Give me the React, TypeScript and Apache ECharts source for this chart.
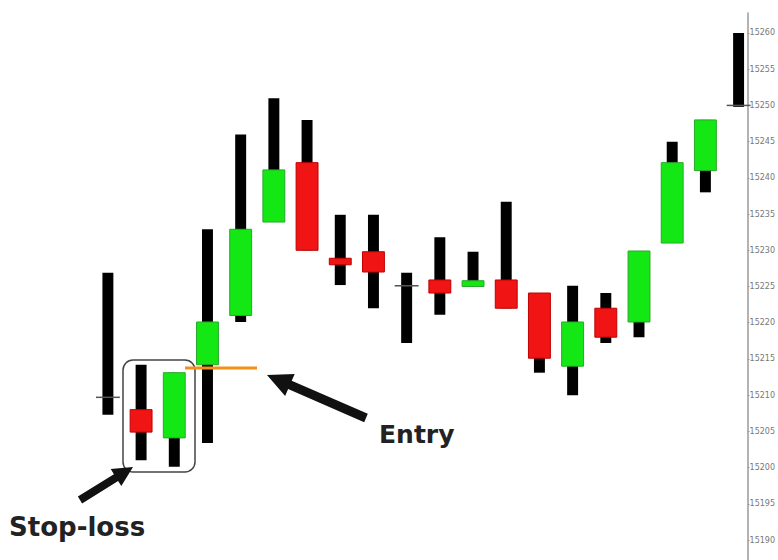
import React, { useEffect, useRef } from "react";
import * as echarts from "echarts";

// Bar numbers (one candle per bar)
const categories = ["1","2","3","4","5","6","7","8","9","10","11","12","13","14","15","16","17","18","19","20"];
const opens  = [15209.7, 15208.0, 15204.1, 15214.2, 15221.0, 15233.9, 15242.1, 15228.9, 15229.8, 15225.1, 15225.9, 15225.0, 15225.9, 15224.1, 15214.0, 15222.0, 15220.1, 15231.0, 15241.0, 15250.0];
const closes = [15209.7, 15204.9, 15213.1, 15220.1, 15232.9, 15241.1, 15230.0, 15228.0, 15227.0, 15225.1, 15224.1, 15225.8, 15222.0, 15215.1, 15220.1, 15218.0, 15229.9, 15242.1, 15248.0, 15250.0];
const lows   = [15207.3, 15201.0, 15200.1, 15203.4, 15220.1, 15233.9, 15230.0, 15225.2, 15222.0, 15217.2, 15221.1, 15225.0, 15222.0, 15213.1, 15210.0, 15217.2, 15218.0, 15231.0, 15238.0, 15249.8];
const highs  = [15226.9, 15214.2, 15213.1, 15232.9, 15246.0, 15251.0, 15248.0, 15234.9, 15234.9, 15226.9, 15231.8, 15229.8, 15236.7, 15224.1, 15225.1, 15224.1, 15229.9, 15245.0, 15248.0, 15260.0];
const tickLabels = [15190, 15195, 15200, 15205, 15210, 15215, 15220, 15225, 15230, 15235, 15240, 15245, 15250, 15255, 15260];
const entryLabel = "Entry";
const stopLabel = "Stop-loss";

function arrow(x1: number, y1: number, x2: number, y2: number, headLen: number, headW: number, shaftW: number) {
  const dx = x2 - x1, dy = y2 - y1;
  const len = Math.hypot(dx, dy);
  const ux = dx / len, uy = dy / len;
  const nx = -uy, ny = ux;
  const bx = x2 - ux * headLen, by = y2 - uy * headLen;
  return [
    [x2, y2],
    [bx + nx * headW, by + ny * headW],
    [bx + nx * shaftW, by + ny * shaftW],
    [x1 + nx * shaftW, y1 + ny * shaftW],
    [x1 - nx * shaftW, y1 - ny * shaftW],
    [bx - nx * shaftW, by - ny * shaftW],
    [bx - nx * headW, by - ny * headW],
  ];
}

export default function App() {
  const ref = useRef<HTMLDivElement>(null);
  useEffect(() => {
    if (!ref.current) return;
    const chart = echarts.init(ref.current, null, { renderer: "svg" });
    const data = categories.map((_, i) => [i, opens[i], closes[i], lows[i], highs[i]]);
    chart.setOption({
      animation: false,
      backgroundColor: "#ffffff",
      grid: { left: 91.3, right: 28, top: 13, bottom: 0 },
      xAxis: { type: "value", min: -0.5, max: 19.27, show: false },
      yAxis: {
        type: "value",
        position: "right",
        min: 15187.24,
        max: 15262.76,
        axisLine: { show: true, onZero: false, lineStyle: { color: "#9a9a9a", width: 1.5 } },
        axisTick: { show: true, length: 2, customValues: tickLabels, lineStyle: { color: "#9a9a9a" } },
        axisLabel: {
          customValues: tickLabels,
          formatter: (v: number) => String(Math.round(v)),
          fontSize: 8,
          color: "#777",
          margin: 2,
          fontFamily: "DejaVu Sans",
        },
        splitLine: { show: false },
      },
      series: [
        {
          type: "custom",
          data,
          encode: { x: 0, y: [1, 2, 3, 4] },
          renderItem: (params: any, api: any) => {
            const x = api.value(0);
            const o = api.value(1), c = api.value(2), l = api.value(3), h = api.value(4);
            const pH = api.coord([x, h]);
            const pL = api.coord([x, l]);
            const pO = api.coord([x, o]);
            const pC = api.coord([x, c]);
            const band = api.size([1, 0])[0];
            const wickW = band * 0.33;
            const bodyW = band * 0.66;
            const cx = pH[0];
            const children: any[] = [
              {
                type: "rect",
                shape: { x: cx - wickW / 2, y: pH[1], width: wickW, height: Math.max(1, pL[1] - pH[1]) },
                style: { fill: "#000000" },
              },
            ];
            if (o === c) {
              children.push({
                type: "line",
                shape: { x1: cx - band * 0.36, y1: pO[1], x2: cx + band * 0.36, y2: pO[1] },
                style: { stroke: "#555", lineWidth: 1.5 },
              });
            } else {
              const up = c > o;
              const top = Math.min(pO[1], pC[1]);
              const hgt = Math.abs(pO[1] - pC[1]);
              children.push({
                type: "rect",
                shape: { x: cx - bodyW / 2, y: top, width: bodyW, height: Math.max(3, hgt) },
                style: {
                  fill: up ? "#14e814" : "#f01414",
                  stroke: up ? "#2aa82a" : "#c00000",
                  lineWidth: 1,
                },
              });
            }
            return { type: "group", children };
          },
        },
      ],
      graphic: [
        {
          type: "rect",
          shape: { x: 123, y: 360, width: 72, height: 112, r: 10 },
          style: { fill: "none", stroke: "#444", lineWidth: 1.5 },
          z: 10,
        },
        {
          type: "line",
          shape: { x1: 185, y1: 368, x2: 257, y2: 368 },
          style: { stroke: "#f39019", lineWidth: 3 },
          z: 10,
        },
        {
          type: "polygon",
          shape: { points: arrow(366, 418, 267, 375, 25, 12, 4.5) },
          style: { fill: "#111" },
          z: 10,
        },
        {
          type: "polygon",
          shape: { points: arrow(80, 500, 133, 467, 20, 10, 4) },
          style: { fill: "#111" },
          z: 10,
        },
        {
          type: "text",
          x: 379,
          y: 434,
          style: {
            text: entryLabel,
            font: "bold 25px 'DejaVu Sans'",
            fill: "#222",
            verticalAlign: "middle",
            align: "left",
          },
          z: 10,
        },
        {
          type: "text",
          x: 9,
          y: 527,
          style: {
            text: stopLabel,
            font: "bold 26px 'DejaVu Sans'",
            fill: "#222",
            verticalAlign: "middle",
            align: "left",
          },
          z: 10,
        },
      ],
    });
    return () => chart.dispose();
  }, []);
  return (
    <div
      ref={ref}
      style={{ position: "fixed", left: 0, top: 0, width: 778, height: 560, background: "#fff" }}
    />
  );
}
